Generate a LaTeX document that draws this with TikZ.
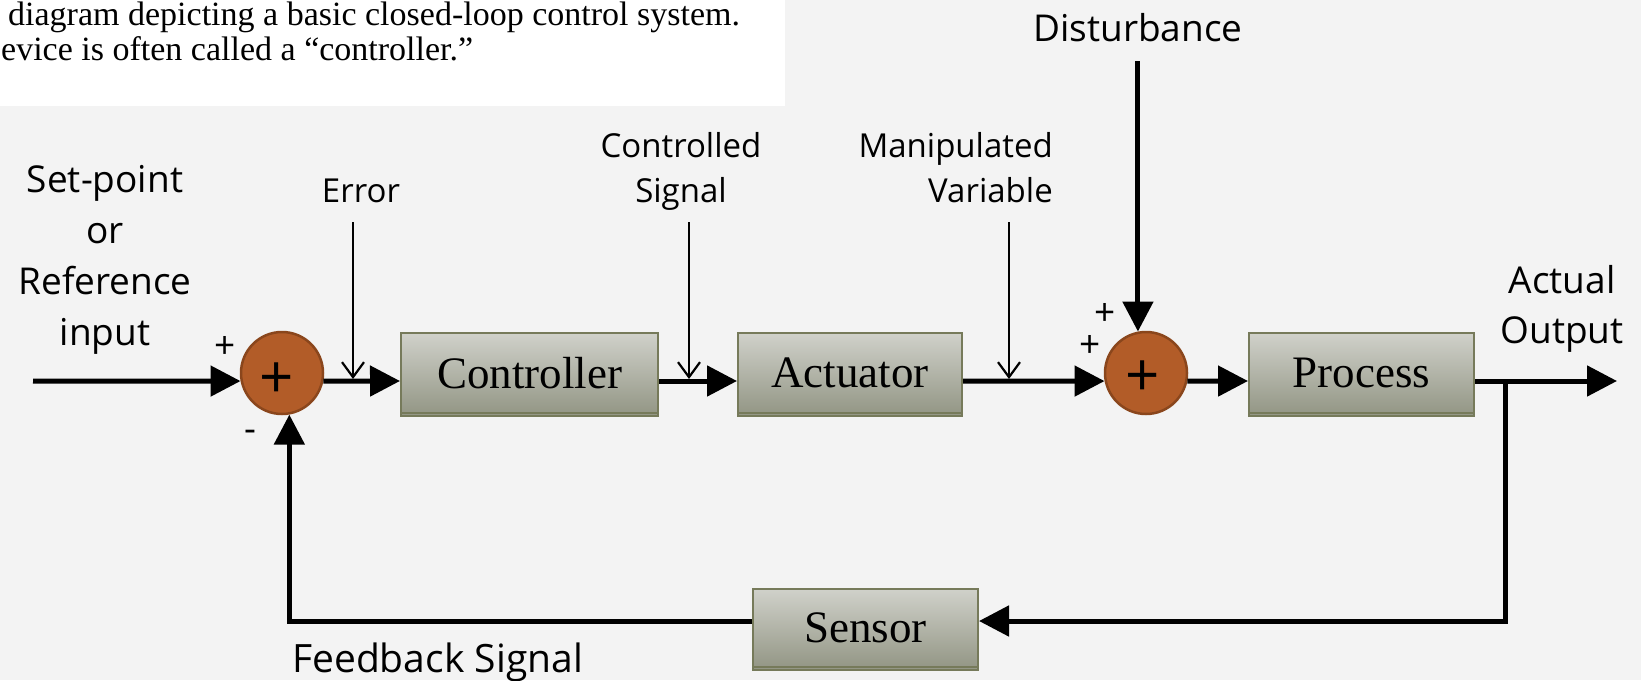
\documentclass[tikz,border=0pt]{standalone}
\usepackage{fontspec}
\setmainfont{Liberation Serif}
\newfontfamily\lab{Open Sans}
\usetikzlibrary{arrows.meta,shadows}
\definecolor{bg}{RGB}{243,243,243}
\definecolor{boxtop}{RGB}{208,209,202}
\definecolor{boxbot}{RGB}{148,151,134}
\definecolor{boxline}{RGB}{118,122,90}
\definecolor{sumfill}{RGB}{178,92,40}
\definecolor{sumline}{RGB}{138,70,28}
\tikzset{
 blk/.style={rectangle, minimum height=80pt, top color=boxtop, bottom color=boxbot,
   draw=boxline, line width=2pt, inner sep=0pt, font=\fontsize{45}{54}\selectfont,
   copy shadow={shadow xshift=0pt, shadow yshift=-3pt, draw=boxline, fill=boxbot, line width=1.5pt}},
 sumnode/.style={circle, minimum size=82pt, inner sep=0pt, fill=sumfill, draw=sumline, line width=2.5pt},
 big/.style={font=\lab\fontsize{37}{44}\selectfont, inner sep=0pt},
 small/.style={font=\lab\fontsize{33}{40}\selectfont, inner sep=0pt},
 sign/.style={font=\lab\fontsize{37}{44}\selectfont, inner sep=0pt},
 sumplus/.style={font=\lab\fontsize{60}{70}\selectfont, inner sep=0pt},
 sig/.style={line width=5pt, -{Triangle[length=30pt,width=30pt]}},
 tag/.style={line width=2.2pt, -{Straight Barb[length=15pt,width=22pt]}},
 captxt/.style={anchor=base west, inner sep=0pt, font=\fontsize{34}{38}\selectfont},
}
\begin{document}
\begin{tikzpicture}[x=1pt,y=-1pt]
\useasboundingbox (0,0) rectangle (1641,680);
\fill[bg] (0,0) rectangle (1641,680);
\fill[white] (0,0) rectangle (785,106);
\node[captxt] (cap1) at (8,25) {diagram depicting a basic closed-loop control system.};
\node[captxt] (cap2) at (1,60) {evice is often called a “controller.”};

% blocks
\node[sumnode] (s1) at (282,373) {};
\node[sumplus] (p1) at (277,381) {+};
\node[blk, minimum width=257pt] (ctrl) at (529.5,373) {Controller};
\node[blk, minimum width=224pt] (act) at (850,373) {Actuator};
\node[sumnode] (s2) at (1146,373) {};
\node[sumplus] (p2) at (1143,379) {+};
\node[blk, minimum width=225pt] (proc) at (1361.5,373) {Process};
\node[blk, minimum width=225pt, minimum height=78pt] (sens) at (865.5,628) {Sensor};

% coordinates
\coordinate (in) at (33,381);
\coordinate (out) at (1617,381);
\coordinate (br) at (1505,381);
\coordinate (dtop) at (1138,61);
\coordinate (etop) at (353,222);
\coordinate (ebot) at (353,379);
\coordinate (ctop) at (689,222);
\coordinate (cbot) at (689,379);
\coordinate (mtop) at (1009,222);
\coordinate (mbot) at (1009,379);

% connectors
\draw[sig] (in) -- (s1.191);
\draw[sig] (s1.349) -- ([yshift=-8pt]ctrl.west);
\draw[sig] ([yshift=-8pt]ctrl.east) -- ([yshift=-8pt]act.west);
\draw[sig] ([yshift=-8pt]act.east) -- (s2.191);
\draw[sig] (s2.349) -- ([yshift=-8pt]proc.west);
\draw[sig] ([yshift=-8pt]proc.east) -- (out);
\draw[sig] (s2.101 |- dtop) -- (s2.101);
\draw[sig] (br) |- ([yshift=7pt]sens.east);
\draw[sig] ([yshift=7pt]sens.west) -| (s1.-80);
\draw[tag] (etop) -- (ebot);
\draw[tag] (ctop) -- (cbot);
\draw[tag] (mtop) -- (mbot);

% labels
\node[big, anchor=base] (dist) at (1138,41) {Disturbance};
\node[big, anchor=base] (sp1) at (105,192) {Set-point};
\node[big, anchor=base] (sp2) at (105,243) {or};
\node[big, anchor=base] (sp3) at (105,294) {Reference};
\node[big, anchor=base] (sp4) at (105,345) {input};
\node[small, anchor=base] (err) at (361,202) {Error};
\node[small, anchor=base] (cs1) at (681,157) {Controlled};
\node[small, anchor=base] (cs2) at (681,202) {Signal};
\node[small, anchor=base east] (mv1) at (1053,157) {Manipulated};
\node[small, anchor=base east] (mv2) at (1053,202) {Variable};
\node[big, anchor=base] (ao1) at (1562,293) {Actual};
\node[big, anchor=base] (ao2) at (1562,343) {Output};
\node[big, anchor=base west, font=\lab\fontsize{39}{46}\selectfont] (fb) at (292,672) {Feedback Signal};
\node[sign] (pl1) at (225,347) {+};
\node[sign] (mi1) at (250,436) {-};
\node[sign] (pl2) at (1105,314) {+};
\node[sign] (pl3) at (1090,346) {+};
\end{tikzpicture}
\end{document}
